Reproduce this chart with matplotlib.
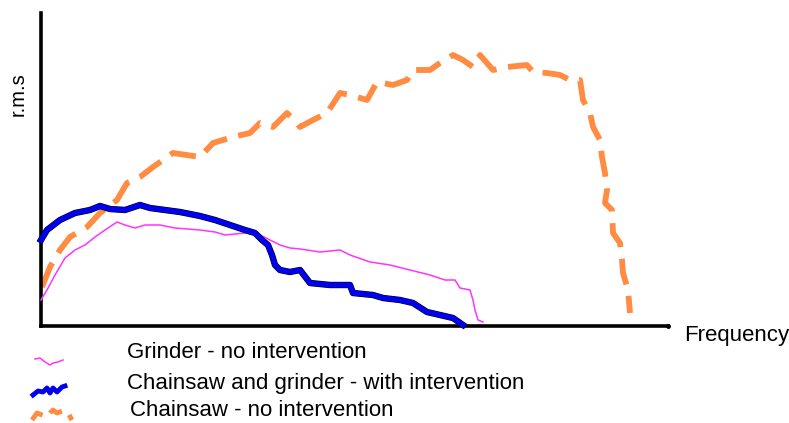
import matplotlib
matplotlib.use('Agg')
import matplotlib.pyplot as plt

plt.rcParams['font.family'] = ['Liberation Sans', 'DejaVu Sans']

# frequency bins (arbitrary units) and r.m.s. levels (arbitrary units)
grinder_f = [0, 6, 14, 24, 34, 44, 54, 64, 76, 84, 94, 104, 119, 134, 159, 174, 184, 204,
             219, 229, 239, 249, 259, 279, 299, 309, 329, 349, 369, 389, 404, 414, 419,
             429, 432, 434, 437, 442]
grinder_rms = [26, 36, 51, 68, 76, 81, 89, 96, 104, 101, 98, 101, 101, 98, 96, 94, 91, 93,
               91, 86, 81, 78, 77, 74, 76, 71, 64, 61, 56, 51, 46, 46, 38, 36, 26, 16, 6, 4]

combined_f = [0, 6, 19, 34, 49, 59, 69, 84, 99, 109, 124, 139, 159, 174, 189, 204, 214,
              221, 227, 231, 234, 239, 249, 259, 269, 289, 309, 312, 332, 342, 359, 372,
              386, 399, 412, 422]
combined_rms = [86, 96, 106, 113, 116, 120, 117, 116, 121, 118, 116, 114, 110, 106, 101,
                96, 93, 86, 81, 71, 61, 56, 54, 56, 43, 41, 41, 33, 31, 28, 26, 23, 14,
                11, 8, 1]

chainsaw_f = [1, 9, 19, 29, 46, 59, 76, 86, 99, 112, 132, 159, 172, 192, 209, 219, 232, 246,
              256, 259, 272, 286, 299, 309, 326, 336, 352, 366, 372, 389, 399, 412, 422, 432,
              439, 452, 466, 486, 492, 506, 519, 529, 539, 542, 549, 552, 559, 561, 564, 566,
              564, 571, 572, 579, 581, 582, 587, 589]
chainsaw_rms = [39, 59, 76, 89, 99, 113, 126, 143, 149, 159, 173, 169, 183, 189, 193, 203,
                199, 213, 203, 199, 206, 213, 233, 231, 226, 244, 241, 246, 256, 256, 263,
                271, 266, 259, 271, 256, 259, 261, 254, 253, 251, 246, 246, 226, 213, 199,
                186, 169, 153, 136, 123, 116, 93, 83, 66, 53, 36, 13]

fig = plt.figure(figsize=(7.89, 4.23), dpi=100)
fig.patch.set_facecolor('white')

ax = fig.add_axes([41 / 789, 97 / 423, 627 / 789, 313 / 423])
ax.set_xlim(0, 627)
ax.set_ylim(0, 313)
for s in ['top', 'right']:
    ax.spines[s].set_visible(False)
for s in ['left', 'bottom']:
    ax.spines[s].set_linewidth(2.6)
    ax.spines[s].set_color('black')
ax.set_xticks([])
ax.set_yticks([])

ax.plot(grinder_f, grinder_rms, color='#ff33ff', lw=1.1, clip_on=False, zorder=3)
ax.plot(combined_f, combined_rms, color='black', lw=4.6, clip_on=False, zorder=4)
ax.plot(combined_f, combined_rms, color='#0000ee', lw=3.8, clip_on=False, zorder=5)
ax.plot(chainsaw_f, chainsaw_rms, color='#ff8c42', lw=4.2, dashes=(4.5, 2.0),
        clip_on=False, zorder=2)

# overlay in pixel units for labels and legend
ov = fig.add_axes([0, 0, 1, 1], facecolor='none')
ov.set_xlim(0, 789)
ov.set_ylim(423, 0)
ov.axis('off')

ov.text(18, 94, 'r.m.s', rotation=90, ha='center', va='center', fontsize=14.5)
ov.text(684, 336, 'Frequency', ha='left', va='center', fontsize=16)
ov.plot([668], [326], 'o', color='black', ms=2.5)

legend_rows = [
    ('Grinder - no intervention', 127, 353),
    ('Chainsaw and grinder - with intervention', 127, 383),
    ('Chainsaw - no intervention', 130, 411),
]
for label, x, y in legend_rows:
    ov.text(x, y, label, ha='left', va='center', fontsize=16)

ov.plot([35, 40, 45, 50, 53, 58, 63], [359, 358, 362, 365, 363, 362, 360],
        color='#ff33ff', lw=1.1)
ov.plot([33, 38, 43, 47, 50, 53, 57, 62, 65], [395, 391, 392, 388, 393, 388, 392, 387, 386],
        color='#0000ee', lw=3.5)
ov.plot([32, 37, 47, 50, 53, 57, 65, 68, 72], [420, 413, 417, 413, 410, 413, 410, 413, 420],
        color='#ff8c42', lw=3.5, dashes=(3, 2))

fig.savefig('out.png', dpi=100, facecolor='white')
